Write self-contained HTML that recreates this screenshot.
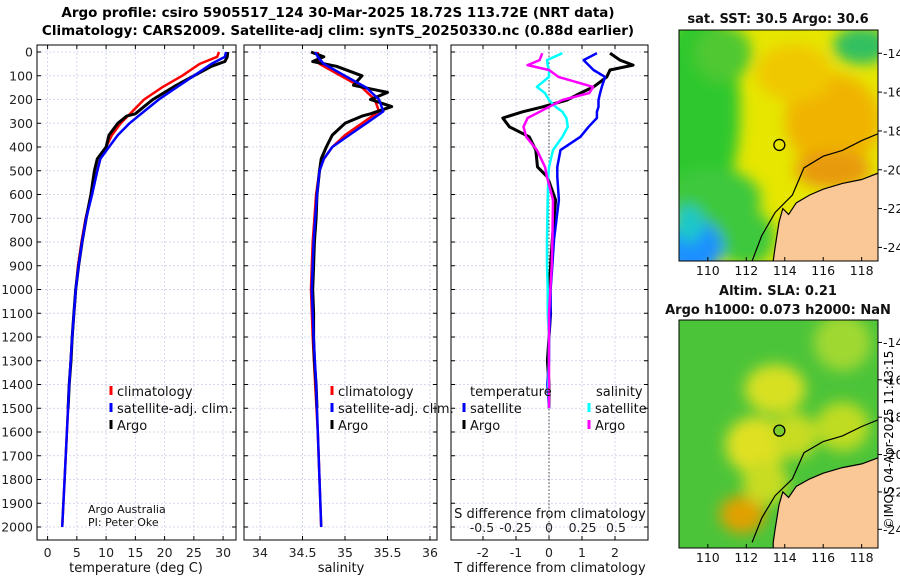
<!DOCTYPE html>
<html><head><meta charset="utf-8"><style>
html,body{margin:0;padding:0;background:#fff;}
svg{display:block;font-family:"DejaVu Sans","Liberation Sans",sans-serif;}
</style></head><body>
<svg id="chart" width="900" height="580" viewBox="0 0 900 580" xmlns="http://www.w3.org/2000/svg">
<defs>
<filter id="blur6" x="-50%" y="-50%" width="200%" height="200%"><feGaussianBlur stdDeviation="7"/></filter>
<filter id="blur3" x="-50%" y="-50%" width="200%" height="200%"><feGaussianBlur stdDeviation="3"/></filter>
<clipPath id="clipTop"><rect x="679" y="30" width="199" height="231"/></clipPath>
<clipPath id="clipBot"><rect x="679" y="320" width="199" height="228"/></clipPath>
</defs>
<text x="338" y="17" text-anchor="middle" font-size="13.5" font-weight="bold">Argo profile: csiro 5905517_124 30-Mar-2025 18.72S 113.72E (NRT data)</text>
<text x="338" y="35" text-anchor="middle" font-size="13.5" font-weight="bold">Climatology: CARS2009. Satellite-adj clim: synTS_20250330.nc (0.88d earlier)</text>
<g id="layer"></g>
<text transform="translate(893,440) rotate(-90)" text-anchor="middle" font-size="12">©IMOS 04-Apr-2025 11:43:15</text>
</svg>
<script>
// ---- data ----
var depthTicks=[0,100,200,300,400,500,600,700,800,900,1000,1100,1200,1300,1400,1500,1600,1700,1800,1900,2000];
var tempTicks=[0,5,10,15,20,25,30];
var salTicks=[34,34.5,35,35.5,36];
var salTickLabels=["34","34.5","35","35.5","36"];
var tdiffTicks=[-2,-1,0,1,2];
var sdiffTicks=[-0.5,-0.25,0,0.25,0.5];
var sdiffTickLabels=["-0.5","-0.25","0","0.25","0.5"];

var climDepth=[0,20,50,100,150,200,250,300,350,400,450,500,600,700,800,900,1000,1200,1400,1600,1800,2000];
var climTemp=[29.3,29,26,23,19.5,16.5,14.5,12.5,11,10,9,8.5,7.5,6.5,5.8,5.2,4.8,4.2,3.7,3.3,2.9,2.5];
var satTemp=[30.5,30.3,28,25,22,19,16.5,14,12,10.5,9,8.5,7.6,6.6,5.9,5.3,4.8,4.2,3.7,3.3,2.9,2.5];
var climSal=[34.68,34.68,34.7,34.95,35.2,35.35,35.4,35.2,35.0,34.85,34.75,34.7,34.66,34.64,34.62,34.61,34.6,34.62,34.65,34.68,34.7,34.72];
var satSal=[34.65,34.68,34.75,35.0,35.25,35.4,35.45,35.25,35.05,34.85,34.75,34.7,34.67,34.65,34.63,34.62,34.61,34.63,34.66,34.68,34.7,34.72];

var argoDepth=[0,20,40,60,100,140,170,200,230,260,270,300,350,400,450,500,600,700,800,900,1000,1100,1200,1300,1400,1500];
var argoTemp=[30.8,30.7,30.3,28,25,22,20,18,16.5,15,13.5,12,10.5,10,8.5,8,7.4,6.6,5.9,5.3,4.8,4.5,4.2,4.0,3.7,3.5];
var argoSal=[34.6,34.75,34.62,34.9,35.2,35.1,35.5,35.3,35.55,35.3,35.2,35.0,34.85,34.78,34.72,34.7,34.67,34.66,34.64,34.63,34.62,34.63,34.63,34.64,34.66,34.67];

var diffDepth=[5,34,55,76,105,147,173,202,231,252,278,315,357,413,484,526,623,790,900,1000,1100,1200,1300,1400,1500];
var argoTdiff=[1.85,2.15,2.55,1.85,1.75,1.35,0.95,0.55,-0.2,-0.8,-1.4,-1.2,-0.6,-0.4,-0.35,-0.05,0.2,0.1,0.05,0.0,0.05,0.0,-0.05,0.0,0.0];
var satTdiff=[1.45,1.05,1.2,1.35,1.7,1.6,1.55,1.5,1.5,1.45,1.45,1.2,0.95,0.35,0.25,0.25,0.3,0.15,0.1,0.05,0.05,0.0,0.0,-0.05,0.0];
var argoSdiff=[-0.05,-0.07,-0.16,0.0,0.07,0.33,0.3,0.1,0.0,-0.07,-0.16,-0.19,-0.17,-0.09,-0.03,-0.015,0.03,0.025,0.02,0.01,0.0,0.0,0.0,0.0,0.0];
var satSdiff=[0.1,-0.015,-0.01,0.0,0.0,-0.09,-0.03,0.0,0.05,0.1,0.13,0.14,0.1,0.03,0.0,-0.005,-0.01,-0.015,-0.015,-0.01,-0.01,0.0,0.0,-0.005,0.0];

var lonTicks=[110,112,114,116,118];
var latTicks=[-14,-16,-18,-20,-22,-24];
var floatLon=113.72, floatLat=-18.72;
var coastLon=[119.3,118,117,116,115.3,114.6,114.2,113.9,113.7,113.5,113.4,113.4,119.3];
var coastLat=[-20.0,-20.5,-20.7,-21.0,-21.3,-21.7,-22.3,-22.0,-22.7,-24.0,-24.7,-26,-26];
var shelfLon=[119.2,118,117,116,115,114.7,114.4,113.5,112.8,112.3];
var shelfLat=[-18.0,-18.5,-19.0,-19.3,-19.9,-20.6,-21.3,-22.2,-23.4,-24.7];

// ---- helpers ----
var NS="http://www.w3.org/2000/svg";
var layer=document.getElementById('layer');
function el(tag,attrs,parent){var e=document.createElementNS(NS,tag);for(var k in attrs)e.setAttribute(k,attrs[k]);(parent||layer).appendChild(e);return e;}
function yD(d){return 52+d*0.2375;}
var boxTop=45,boxBot=540;
var panels=[{x0:37,x1:236,name:'temperature'},{x0:244,x1:437,name:'salinity'},{x0:451,x1:648,name:'difference'}];
function xT(t){return 47.6+t*5.85;}
function xS(s){return 260+(s-34)*85;}
function xTd(v){return 549+v*33;}
function xSd(v){return 549+v*134;}

// grids and boxes
panels.forEach(function(p,i){
  depthTicks.forEach(function(d){
    var g=el('line',{x1:p.x0,x2:p.x1,y1:yD(d),y2:yD(d),stroke:'#c8cce8','stroke-width':0.8,'stroke-dasharray':'2,2'});
    
    
    el('line',{x1:p.x0,x2:p.x0+4,y1:yD(d),y2:yD(d),stroke:'#000'});
    el('line',{x1:p.x1-4,x2:p.x1,y1:yD(d),y2:yD(d),stroke:'#000'});
  });
});
function vgrid(p,ticks,fx,labels,ylab){
  ticks.forEach(function(t,i){
    var x=fx(t);
    var g=el('line',{x1:x,x2:x,y1:boxTop,y2:boxBot,stroke:'#c8cce8','stroke-width':0.8,'stroke-dasharray':'2,2'});
    
    
    el('line',{x1:x,x2:x,y1:boxBot-4,y2:boxBot,stroke:'#000'});
    el('line',{x1:x,x2:x,y1:boxTop,y2:boxTop+4,stroke:'#000'});
    var tx=el('text',{x:x,y:ylab,'text-anchor':'middle','font-size':12.5,fill:'#222'});
    tx.textContent=labels?labels[i]:String(t);
    
    
  });
}
vgrid(panels[0],tempTicks,xT,null,557);
vgrid(panels[1],salTicks,xS,salTickLabels,557);
vgrid(panels[2],tdiffTicks,xTd,null,557);
sdiffTicks.forEach(function(t,i){
  var tx=el('text',{x:xSd(t),y:532,'text-anchor':'middle','font-size':12.5,fill:'#222'});
  tx.textContent=sdiffTickLabels[i];
  
  
});
depthTicks.forEach(function(d){
  var tx=el('text',{x:33,y:yD(d)+4.5,'text-anchor':'end','font-size':12.5,fill:'#222'});
  tx.textContent=String(d);
  
  
});
// zero line panel 3
var zl=el('line',{x1:549,x2:549,y1:boxTop,y2:boxBot,stroke:'#444','stroke-width':1,'stroke-dasharray':'1.5,2'});



function series(xs,ds,fx,color,w,name){
  var pts=xs.map(function(v,i){return fx(v).toFixed(1)+','+yD(ds[i]).toFixed(1);}).join(' ');
  var pl=el('polyline',{points:pts,fill:'none',stroke:color,'stroke-width':w,'stroke-linejoin':'round'});
  
  
}
series(climTemp,climDepth,xT,'#f00',2.5,'climatology-temperature-line');
series(argoTemp,argoDepth,xT,'#000',3,'argo-temperature-line');
series(satTemp,climDepth,xT,'#00f',2.5,'satellite-temperature-line');
series(climSal,climDepth,xS,'#f00',2.5,'climatology-salinity-line');
series(argoSal,argoDepth,xS,'#000',3,'argo-salinity-line');
series(satSal,climDepth,xS,'#00f',2.5,'satellite-salinity-line');
series(argoTdiff,diffDepth,xTd,'#000',3,'argo-temperature-diff-line');
series(satTdiff,diffDepth,xTd,'#00f',2.5,'satellite-temperature-diff-line');
series(satSdiff,diffDepth,xSd,'#0ff',2.5,'satellite-salinity-diff-line');
series(argoSdiff,diffDepth,xSd,'#f0f',2.5,'argo-salinity-diff-line');

panels.forEach(function(p){
  var r=el('rect',{x:p.x0,y:boxTop,width:p.x1-p.x0,height:boxBot-boxTop,fill:'none',stroke:'#000','stroke-width':1});
  
  
});

function txt(x,y,s,size,name,anchor,extra){
  var t=el('text',{x:x,y:y,'font-size':size,fill:'#111','text-anchor':anchor||'start'});
  if(extra)for(var k in extra)t.setAttribute(k,extra[k]);
  t.textContent=s;
  
  
  return t;
}
txt(136,572,'temperature (deg C)',13,'temperature-axis-title','middle');
txt(341,572,'salinity',13,'salinity-axis-title','middle');
txt(550,572,'T difference from climatology',13,'t-diff-axis-title','middle');
txt(550,518,'S difference from climatology',13,'s-diff-axis-title','middle');
txt(88,513,'Argo Australia',11,'credit-argo-australia');
txt(88,526,'PI: Peter Oke',11,'credit-pi');

function legendEntry(x,y,color,label,name){
  var m=el('line',{x1:x,x2:x,y1:y-10,y2:y-1,stroke:color,'stroke-width':3});
  
  
  txt(x+6,y,label,13,name);
}
legendEntry(111,396,'#f00','climatology','legend-climatology-temp');
legendEntry(111,413,'#00f','satellite-adj. clim.','legend-satellite-temp');
legendEntry(111,430,'#000','Argo','legend-argo-temp');
legendEntry(332,396,'#f00','climatology','legend-climatology-sal');
legendEntry(332,413,'#00f','satellite-adj. clim.','legend-satellite-sal');
legendEntry(332,430,'#000','Argo','legend-argo-sal');
txt(470,396,'temperature',13,'legend-temperature-header');
txt(596,396,'salinity',13,'legend-salinity-header');
legendEntry(464,413,'#00f','satellite','legend-satellite-tdiff');
legendEntry(464,430,'#000','Argo','legend-argo-tdiff');
legendEntry(589,413,'#0ff','satellite','legend-satellite-sdiff');
legendEntry(589,430,'#f0f','Argo','legend-argo-sdiff');

// ---- maps ----
function makeMap(top,bot,latTop,latBot,clip,kind){
  var x0=679,x1=878,lonL=108.5,lonR=118.85;
  function mx(lon){return x0+(lon-lonL)/(lonR-lonL)*(x1-x0);}
  function my(lat){return top+(latTop-lat)/(latTop-latBot)*(bot-top);}
  var g=el('g',{'clip-path':'url(#'+clip+')'});
  
  
  var blobs;
  if(kind==='sst'){
    el('rect',{x:x0,y:top,width:x1-x0,height:bot-top,fill:'#e6e600'},g);
    blobs=[[109.5,-17,2.2,5.5,'#2ec82e'],[110.3,-21.5,2.5,1.6,'#3cc83c'],[112,-23.5,1.5,1.5,'#3cc83c'],[109.2,-24,1.6,1.5,'#1e90ff'],[109,-22.8,0.8,1,'#1ec8c8'],
      [116.5,-17.5,2.5,2.5,'#f0b400'],[116.5,-20,2,1,'#e89a10'],[114.5,-15,2,1.5,'#f0c800'],[118,-13.6,1.5,1,'#30c060'],[110.8,-14,1.5,1.5,'#50c830']];
  } else {
    el('rect',{x:x0,y:top,width:x1-x0,height:bot-top,fill:'#4cc43a'},g);
    blobs=[[113.5,-16.5,1.6,1.3,'#d8e020'],[112.5,-19.5,1.6,1.5,'#e0e020'],[114.5,-19,1.2,1.2,'#c8dc20'],[111.8,-23.2,1.2,1,'#e0a000'],[113,-21.5,1.2,1.2,'#c8dc20'],[117,-14,1.5,1.5,'#a0d830'],[117,-18.5,1.4,1.3,'#c0dc20']];
  }
  var bg=el('g',{filter:'url(#blur6)'},g);
  blobs.forEach(function(b){
    el('ellipse',{cx:mx(b[0]),cy:my(b[1]),rx:b[2]*19,ry:b[3]*19,fill:b[4]},bg);
  });
  var land=coastLon.map(function(l,i){return mx(l).toFixed(1)+','+my(coastLat[i]).toFixed(1);}).join(' ');
  var lp=el('polygon',{points:land,fill:'#f9c896',stroke:'#000','stroke-width':1.2},g);
  
  
  var sh=shelfLon.map(function(l,i){return mx(l).toFixed(1)+','+my(shelfLat[i]).toFixed(1);}).join(' ');
  var sp=el('polyline',{points:sh,fill:'none',stroke:'#000','stroke-width':1.2},g);
  
  
  var c=el('circle',{cx:mx(floatLon),cy:my(floatLat),r:5.5,fill:kind==='sst'?'none':'#7ccc2c',stroke:'#000','stroke-width':1.3});
  
  
  var fr=el('rect',{x:x0,y:top,width:x1-x0,height:bot-top,fill:'none',stroke:'#000','stroke-width':1});
  
  
  lonTicks.forEach(function(l){
    el('line',{x1:mx(l),x2:mx(l),y1:bot,y2:bot-4,stroke:'#000'});
    var t=txt(mx(l),bot+14,String(l),12.5,'map-lon-label','middle');
  });
  latTicks.forEach(function(l){
    el('line',{x1:x1,x2:x1+4,y1:my(l),y2:my(l),stroke:'#000'});
    txt(x1+5,my(l)+4.5,String(l),12.5,'map-lat-label','start');
  });
}
makeMap(30,261,-12.8,-24.7,'clipTop','sst');
makeMap(320,548,-12.8,-25.0,'clipBot','sla');
txt(778,23,'sat. SST: 30.5 Argo: 30.6',13,'sst-map-title','middle',{'font-weight':'bold'});
txt(778,295,'Altim. SLA: 0.21',13,'sla-map-title','middle',{'font-weight':'bold'});
txt(778,314,'Argo h1000: 0.073 h2000: NaN',13,'sla-map-subtitle','middle',{'font-weight':'bold'});
</script>
</body></html>
